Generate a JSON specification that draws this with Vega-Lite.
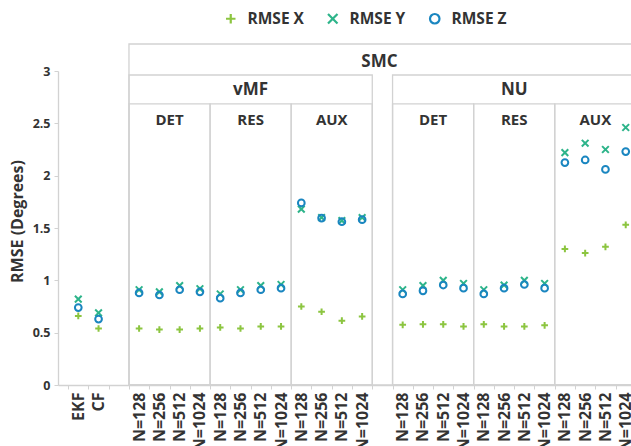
{
  "$schema": "https://vega.github.io/schema/vega-lite/v6.json",
  "width": 573,
  "height": 341,
  "autosize": {"type": "none"},
  "padding": {"left": 58, "top": 44, "right": 0, "bottom": 61},
  "config": {
    "view": {"stroke": null},
    "font": "Open Sans",
    "text": {"font": "Open Sans"}
  },
  "datasets": {
    "points": [
      {"cat": "EKF", "series": "RMSE X", "rmse": 0.66},
      {"cat": "EKF", "series": "RMSE Y", "rmse": 0.82},
      {"cat": "EKF", "series": "RMSE Z", "rmse": 0.74},
      {"cat": "CF", "series": "RMSE X", "rmse": 0.54},
      {"cat": "CF", "series": "RMSE Y", "rmse": 0.69},
      {"cat": "CF", "series": "RMSE Z", "rmse": 0.63},

      {"cat": "vMF|DET|N=128", "series": "RMSE X", "rmse": 0.54},
      {"cat": "vMF|DET|N=128", "series": "RMSE Y", "rmse": 0.91},
      {"cat": "vMF|DET|N=128", "series": "RMSE Z", "rmse": 0.88},
      {"cat": "vMF|DET|N=256", "series": "RMSE X", "rmse": 0.53},
      {"cat": "vMF|DET|N=256", "series": "RMSE Y", "rmse": 0.89},
      {"cat": "vMF|DET|N=256", "series": "RMSE Z", "rmse": 0.86},
      {"cat": "vMF|DET|N=512", "series": "RMSE X", "rmse": 0.53},
      {"cat": "vMF|DET|N=512", "series": "RMSE Y", "rmse": 0.95},
      {"cat": "vMF|DET|N=512", "series": "RMSE Z", "rmse": 0.91},
      {"cat": "vMF|DET|N=1024", "series": "RMSE X", "rmse": 0.54},
      {"cat": "vMF|DET|N=1024", "series": "RMSE Y", "rmse": 0.92},
      {"cat": "vMF|DET|N=1024", "series": "RMSE Z", "rmse": 0.89},

      {"cat": "vMF|RES|N=128", "series": "RMSE X", "rmse": 0.55},
      {"cat": "vMF|RES|N=128", "series": "RMSE Y", "rmse": 0.87},
      {"cat": "vMF|RES|N=128", "series": "RMSE Z", "rmse": 0.83},
      {"cat": "vMF|RES|N=256", "series": "RMSE X", "rmse": 0.54},
      {"cat": "vMF|RES|N=256", "series": "RMSE Y", "rmse": 0.91},
      {"cat": "vMF|RES|N=256", "series": "RMSE Z", "rmse": 0.88},
      {"cat": "vMF|RES|N=512", "series": "RMSE X", "rmse": 0.56},
      {"cat": "vMF|RES|N=512", "series": "RMSE Y", "rmse": 0.95},
      {"cat": "vMF|RES|N=512", "series": "RMSE Z", "rmse": 0.91},
      {"cat": "vMF|RES|N=1024", "series": "RMSE X", "rmse": 0.56},
      {"cat": "vMF|RES|N=1024", "series": "RMSE Y", "rmse": 0.96},
      {"cat": "vMF|RES|N=1024", "series": "RMSE Z", "rmse": 0.925},

      {"cat": "vMF|AUX|N=128", "series": "RMSE X", "rmse": 0.75},
      {"cat": "vMF|AUX|N=128", "series": "RMSE Y", "rmse": 1.68},
      {"cat": "vMF|AUX|N=128", "series": "RMSE Z", "rmse": 1.74},
      {"cat": "vMF|AUX|N=256", "series": "RMSE X", "rmse": 0.7},
      {"cat": "vMF|AUX|N=256", "series": "RMSE Y", "rmse": 1.6},
      {"cat": "vMF|AUX|N=256", "series": "RMSE Z", "rmse": 1.595},
      {"cat": "vMF|AUX|N=512", "series": "RMSE X", "rmse": 0.615},
      {"cat": "vMF|AUX|N=512", "series": "RMSE Y", "rmse": 1.57},
      {"cat": "vMF|AUX|N=512", "series": "RMSE Z", "rmse": 1.56},
      {"cat": "vMF|AUX|N=1024", "series": "RMSE X", "rmse": 0.655},
      {"cat": "vMF|AUX|N=1024", "series": "RMSE Y", "rmse": 1.6},
      {"cat": "vMF|AUX|N=1024", "series": "RMSE Z", "rmse": 1.58},

      {"cat": "NU|DET|N=128", "series": "RMSE X", "rmse": 0.575},
      {"cat": "NU|DET|N=128", "series": "RMSE Y", "rmse": 0.91},
      {"cat": "NU|DET|N=128", "series": "RMSE Z", "rmse": 0.87},
      {"cat": "NU|DET|N=256", "series": "RMSE X", "rmse": 0.58},
      {"cat": "NU|DET|N=256", "series": "RMSE Y", "rmse": 0.95},
      {"cat": "NU|DET|N=256", "series": "RMSE Z", "rmse": 0.9},
      {"cat": "NU|DET|N=512", "series": "RMSE X", "rmse": 0.58},
      {"cat": "NU|DET|N=512", "series": "RMSE Y", "rmse": 1.0},
      {"cat": "NU|DET|N=512", "series": "RMSE Z", "rmse": 0.955},
      {"cat": "NU|DET|N=1024", "series": "RMSE X", "rmse": 0.56},
      {"cat": "NU|DET|N=1024", "series": "RMSE Y", "rmse": 0.97},
      {"cat": "NU|DET|N=1024", "series": "RMSE Z", "rmse": 0.925},

      {"cat": "NU|RES|N=128", "series": "RMSE X", "rmse": 0.58},
      {"cat": "NU|RES|N=128", "series": "RMSE Y", "rmse": 0.91},
      {"cat": "NU|RES|N=128", "series": "RMSE Z", "rmse": 0.87},
      {"cat": "NU|RES|N=256", "series": "RMSE X", "rmse": 0.56},
      {"cat": "NU|RES|N=256", "series": "RMSE Y", "rmse": 0.955},
      {"cat": "NU|RES|N=256", "series": "RMSE Z", "rmse": 0.925},
      {"cat": "NU|RES|N=512", "series": "RMSE X", "rmse": 0.56},
      {"cat": "NU|RES|N=512", "series": "RMSE Y", "rmse": 1.0},
      {"cat": "NU|RES|N=512", "series": "RMSE Z", "rmse": 0.96},
      {"cat": "NU|RES|N=1024", "series": "RMSE X", "rmse": 0.57},
      {"cat": "NU|RES|N=1024", "series": "RMSE Y", "rmse": 0.97},
      {"cat": "NU|RES|N=1024", "series": "RMSE Z", "rmse": 0.925},

      {"cat": "NU|AUX|N=128", "series": "RMSE X", "rmse": 1.3},
      {"cat": "NU|AUX|N=128", "series": "RMSE Y", "rmse": 2.22},
      {"cat": "NU|AUX|N=128", "series": "RMSE Z", "rmse": 2.125},
      {"cat": "NU|AUX|N=256", "series": "RMSE X", "rmse": 1.26},
      {"cat": "NU|AUX|N=256", "series": "RMSE Y", "rmse": 2.31},
      {"cat": "NU|AUX|N=256", "series": "RMSE Z", "rmse": 2.15},
      {"cat": "NU|AUX|N=512", "series": "RMSE X", "rmse": 1.32},
      {"cat": "NU|AUX|N=512", "series": "RMSE Y", "rmse": 2.25},
      {"cat": "NU|AUX|N=512", "series": "RMSE Z", "rmse": 2.06},
      {"cat": "NU|AUX|N=1024", "series": "RMSE X", "rmse": 1.53},
      {"cat": "NU|AUX|N=1024", "series": "RMSE Y", "rmse": 2.46},
      {"cat": "NU|AUX|N=1024", "series": "RMSE Z", "rmse": 2.23}
    ],
    "headers": [
      {"tier": 1, "name": "SMC", "first": "vMF|DET|N=128", "last": "NU|AUX|N=1024", "mid": "SMC|vMF|"},
      {"tier": 2, "name": "vMF", "first": "vMF|DET|N=128", "last": "vMF|AUX|N=1024", "mid": "vMF|RES|N=512"},
      {"tier": 2, "name": "NU", "first": "NU|DET|N=128", "last": "NU|AUX|N=1024", "mid": "NU|RES|N=512"},
      {"tier": 3, "name": "DET", "first": "vMF|DET|N=128", "last": "vMF|DET|N=1024", "mid": "vMF|DET|N=512"},
      {"tier": 3, "name": "RES", "first": "vMF|RES|N=128", "last": "vMF|RES|N=1024", "mid": "vMF|RES|N=512"},
      {"tier": 3, "name": "AUX", "first": "vMF|AUX|N=128", "last": "vMF|AUX|N=1024", "mid": "vMF|AUX|N=512"},
      {"tier": 3, "name": "DET", "first": "NU|DET|N=128", "last": "NU|DET|N=1024", "mid": "NU|DET|N=512"},
      {"tier": 3, "name": "RES", "first": "NU|RES|N=128", "last": "NU|RES|N=1024", "mid": "NU|RES|N=512"},
      {"tier": 3, "name": "AUX", "first": "NU|AUX|N=128", "last": "NU|AUX|N=1024", "mid": "NU|AUX|N=512"}
    ]
  },
  "resolve": {"axis": {"x": "independent", "y": "independent"}},
  "layer": [
    {
      "data": {"name": "points"},
      "mark": {"type": "point", "filled": false, "strokeWidth": 2, "size": 45, "opacity": 1},
      "encoding": {
        "x": {
          "field": "cat",
          "type": "ordinal",
          "bandPosition": 0.5,
          "scale": {
            "type": "band",
            "domain": [
              "EKF", "CF", "SMC|",
              "vMF|DET|N=128", "vMF|DET|N=256", "vMF|DET|N=512", "vMF|DET|N=1024",
              "vMF|RES|N=128", "vMF|RES|N=256", "vMF|RES|N=512", "vMF|RES|N=1024",
              "vMF|AUX|N=128", "vMF|AUX|N=256", "vMF|AUX|N=512", "vMF|AUX|N=1024",
              "SMC|vMF|",
              "NU|DET|N=128", "NU|DET|N=256", "NU|DET|N=512", "NU|DET|N=1024",
              "NU|RES|N=128", "NU|RES|N=256", "NU|RES|N=512", "NU|RES|N=1024",
              "NU|AUX|N=128", "NU|AUX|N=256", "NU|AUX|N=512", "NU|AUX|N=1024"
            ],
            "range": [0, 588],
            "paddingInner": 0,
            "paddingOuter": 0.5
          },
          "axis": {
            "title": null,
            "labelExpr": "replace(datum.label, /^.*\\|/, '')",
            "labelAngle": -90,
            "labelAlign": "right",
            "labelBaseline": "middle",
            "tickBand": "extent",
            "tickSize": 4,
            "tickColor": "#d2d2d2",
            "domainColor": "#d2d2d2",
            "domainWidth": 1.3,
            "labelPadding": 3,
            "labelFont": "Open Sans",
            "labelFontWeight": "bold",
            "labelFontSize": 16,
            "labelColor": "#333333",
            "labelOverlap": false,
            "labelBound": false,
            "grid": false
          }
        },
        "y": {
          "field": "rmse",
          "type": "quantitative",
          "scale": {"domain": [0, 3], "range": [341, 27], "nice": false, "zero": true},
          "axis": {
            "values": [0, 0.5, 1, 1.5, 2, 2.5, 3],
            "format": "~g",
            "title": "RMSE (Degrees)",
            "grid": false,
            "domainColor": "#d2d2d2",
            "domainWidth": 1.3,
            "tickColor": "#d2d2d2",
            "tickSize": 4,
            "labelPadding": 4,
            "labelFont": "Open Sans",
            "labelFontWeight": "bold",
            "labelFontSize": 12.5,
            "labelColor": "#333333",
            "titleFont": "Open Sans",
            "titleFontWeight": "bold",
            "titleFontSize": 16,
            "titleColor": "#333333",
            "titleAngle": 270,
            "titleX": -41,
            "titleY": 177,
            "titleAlign": "center",
            "titleBaseline": "middle"
          }
        },
        "color": {
          "field": "series",
          "type": "nominal",
          "scale": {"domain": ["RMSE X", "RMSE Y", "RMSE Z"], "range": ["#8cc540", "#2db48a", "#1a86c0"]},
          "legend": {
            "title": null,
            "orient": "none",
            "direction": "horizontal",
            "legendX": 165,
            "legendY": -33,
            "padding": 0,
            "gridAlign": "none",
            "symbolSize": 90,
            "symbolStrokeWidth": 2.2,
            "labelFont": "Open Sans",
            "labelFontWeight": "bold",
            "labelFontSize": 15.5,
            "labelColor": "#333333",
            "labelOffset": 9,
            "columnPadding": 19
          }
        },
        "shape": {
          "field": "series",
          "type": "nominal",
          "scale": {"domain": ["RMSE X", "RMSE Y", "RMSE Z"], "range": ["M-1,0L1,0M0,-1L0,1", "M-1,-1L1,1M-1,1L1,-1", "circle"]},
          "legend": {
            "title": null,
            "orient": "none",
            "direction": "horizontal",
            "legendX": 165,
            "legendY": -33,
            "padding": 0,
            "gridAlign": "none",
            "symbolSize": 90,
            "symbolStrokeWidth": 2.2,
            "labelFont": "Open Sans",
            "labelFontWeight": "bold",
            "labelFontSize": 15.5,
            "labelColor": "#333333",
            "labelOffset": 9,
            "columnPadding": 19
          }
        }
      }
    },
    {
      "data": {"name": "headers"},
      "transform": [{"filter": "datum.tier == 3"}],
      "mark": {"type": "rect", "filled": false, "stroke": "#d2d2d2", "strokeWidth": 1.3},
      "encoding": {
        "x": {"field": "first", "type": "ordinal", "bandPosition": 0, "axis": null},
        "x2": {"field": "last", "bandPosition": 1},
        "y": {"datum": 2.685, "axis": null},
        "y2": {"datum": 0}
      }
    },
    {
      "data": {"name": "headers"},
      "transform": [{"filter": "datum.tier == 2"}],
      "mark": {"type": "rect", "filled": false, "stroke": "#d2d2d2", "strokeWidth": 1.3},
      "encoding": {
        "x": {"field": "first", "type": "ordinal", "bandPosition": 0, "axis": null},
        "x2": {"field": "last", "bandPosition": 1},
        "y": {"datum": 2.962, "axis": null},
        "y2": {"datum": 0}
      }
    },
    {
      "data": {"name": "headers"},
      "transform": [{"filter": "datum.tier == 1"}],
      "mark": {"type": "rect", "filled": false, "stroke": "#d2d2d2", "strokeWidth": 1.3},
      "encoding": {
        "x": {"field": "first", "type": "ordinal", "bandPosition": 0, "axis": null},
        "x2": {"field": "last", "bandPosition": 1},
        "y": {"datum": 3.258, "axis": null},
        "y2": {"datum": 0}
      }
    },
    {
      "data": {"name": "headers"},
      "transform": [{"filter": "datum.tier == 1"}],
      "mark": {"type": "text", "fontWeight": "bold", "fontSize": 17, "color": "#333333", "baseline": "middle", "align": "center", "dx": -3},
      "encoding": {
        "x": {"field": "mid", "type": "ordinal", "bandPosition": 0.5, "axis": null},
        "y": {"datum": 3.09, "axis": null},
        "text": {"field": "name"}
      }
    },
    {
      "data": {"name": "headers"},
      "transform": [{"filter": "datum.tier == 2"}],
      "mark": {"type": "text", "fontWeight": "bold", "fontSize": 17, "color": "#333333", "baseline": "middle", "align": "center"},
      "encoding": {
        "x": {"field": "mid", "type": "ordinal", "bandPosition": 0, "axis": null},
        "y": {"datum": 2.82, "axis": null},
        "text": {"field": "name"}
      }
    },
    {
      "data": {"name": "headers"},
      "transform": [{"filter": "datum.tier == 3"}],
      "mark": {"type": "text", "fontWeight": "bold", "fontSize": 15, "color": "#333333", "baseline": "middle", "align": "center"},
      "encoding": {
        "x": {"field": "mid", "type": "ordinal", "bandPosition": 0, "axis": null},
        "y": {"datum": 2.532, "axis": null},
        "text": {"field": "name"}
      }
    }
  ]
}
